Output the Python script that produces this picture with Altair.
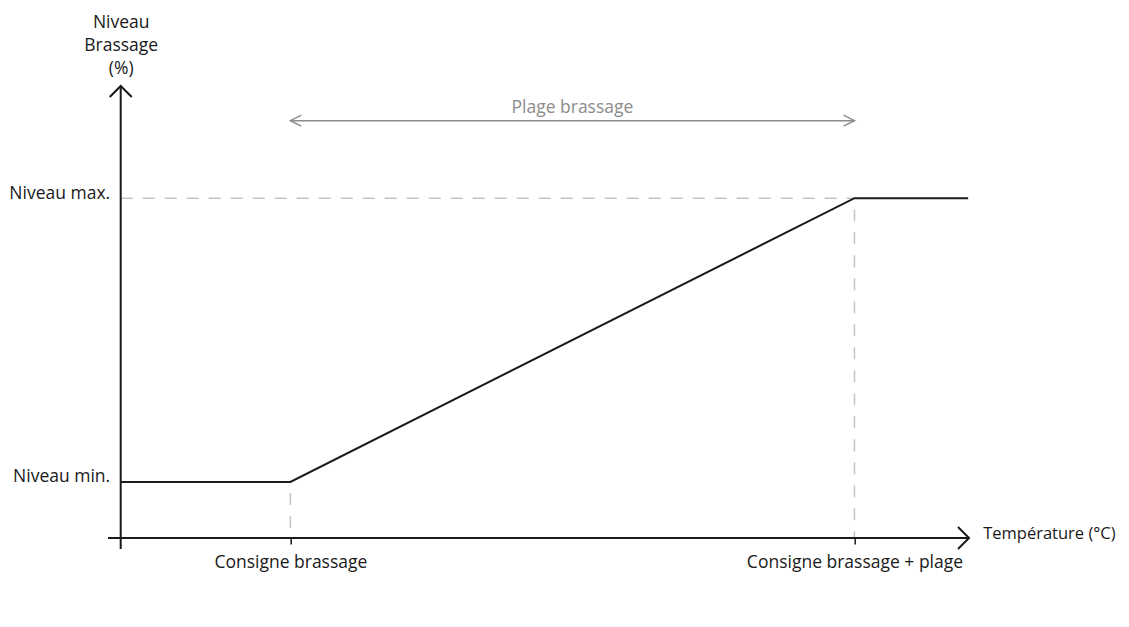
import altair as alt
import pandas as pd

# ---------------- data (x: température, unités arbitraires ; y: niveau de brassage %) -------------
x_ticks = [20, 86.5]
x_tick_labels = ["Consigne brassage", "Consigne brassage + plage"]
y_ticks = [16.5, 100]
y_tick_labels = ["Niveau min.", "Niveau max."]

curve_x = [0, 20, 86.5, 99.9]
curve_y = [16.5, 16.5, 100, 100]

x_axis_span = [-1.5, 100]
y_axis_span = [-3.2, 133]
range_start = 20
range_end = 86.5
range_y = 122.8
range_label = "Plage brassage"

x_title = "Température (°C)"
y_title = ["Niveau", "Brassage", "(%)"]

FONT = "Open Sans"
FS = 17.5
BLACK = "#1a1a1a"
GRID_GRAY = "#c4c4c4"
ARROW_GRAY = "#8c8c8c"


def label_expr(vals, labels):
    expr = "''"
    for v, l in reversed(list(zip(vals, labels))):
        expr = f"datum.value == {v} ? '{l}' : ({expr})"
    return expr


xs = alt.Scale(domain=[0, x_axis_span[1]], nice=False, zero=False)
ys = alt.Scale(domain=[0, y_axis_span[1]], nice=False, zero=False)

X = alt.X(
    "x:Q",
    scale=xs,
    axis=alt.Axis(
        values=x_ticks,
        labelExpr=label_expr(x_ticks, x_tick_labels),
        domain=False,
        grid=False,
        ticks=True,
        tickSize=6,
        tickWidth=1.5,
        tickColor=BLACK,
        labelFont=FONT,
        labelFontSize=FS,
        labelColor=BLACK,
        labelBaseline="alphabetic",
        labelPadding=23,
        labelFlush=False,
        labelOverlap=False,
        labelLimit=0,
        title=x_title,
        titleFont=FONT,
        titleFontSize=16.5,
        titleFontWeight="normal",
        titleColor=BLACK,
        titleAlign="left",
        titleBaseline="alphabetic",
        titleAnchor="start",
        titleLimit=0,
        titleX=862,
        titleY=0,
    ),
)
Y = alt.Y(
    "y:Q",
    scale=ys,
    axis=alt.Axis(
        values=y_ticks,
        labelExpr=label_expr(y_ticks, y_tick_labels),
        domain=False,
        grid=False,
        ticks=False,
        tickSize=0,
        labelFont=FONT,
        labelFontSize=FS,
        labelColor=BLACK,
        labelBaseline="alphabetic",
        labelAlign="right",
        labelPadding=11,
        labelOverlap=False,
        labelLimit=0,
        title=y_title,
        titleFont=FONT,
        titleFontSize=FS,
        titleFontWeight="normal",
        titleColor=BLACK,
        titleAngle=0,
        titleAlign="center",
        titleBaseline="alphabetic",
        titleLineHeight=23,
        titleX=0,
        titleY=-59,
    ),
)

# axis lines
y_axis_df = pd.DataFrame({"x": [0], "y": [y_axis_span[0]], "y2": [y_axis_span[1]]})
x_axis_df = pd.DataFrame({"x": [x_axis_span[0]], "x2": [x_axis_span[1]], "y": [0]})

y_axis_line = alt.Chart(y_axis_df).mark_rule(color=BLACK, strokeWidth=2).encode(
    x=X, y=Y, y2="y2:Q"
)
x_axis_line = alt.Chart(x_axis_df).mark_rule(color=BLACK, strokeWidth=2).encode(
    x=X, x2="x2:Q", y=Y
)

# dashed guides
h_guide_df = pd.DataFrame({"x": [0], "x2": [x_ticks[1]], "y": [y_ticks[1]]})
v_guide_df = pd.DataFrame({"x": x_ticks, "y": [curve_y[1], curve_y[2]], "y2": [0, 0]})

h_guide = alt.Chart(h_guide_df).mark_rule(
    color=GRID_GRAY, strokeWidth=1.5, strokeDash=[12, 10]
).encode(x=X, x2="x2:Q", y=Y)
v_guide = alt.Chart(v_guide_df).mark_rule(
    color=GRID_GRAY, strokeWidth=1.5, strokeDash=[12, 11], strokeDashOffset=12
).encode(x=X, y=Y, y2="y2:Q")

# main curve
curve_df = pd.DataFrame({"x": curve_x, "y": curve_y})
curve = alt.Chart(curve_df).mark_line(color=BLACK, strokeWidth=2).encode(x=X, y=Y)

# arrow heads on axes
up_df = pd.DataFrame({"x": [0], "y": [y_axis_span[1]]})
right_df = pd.DataFrame({"x": [x_axis_span[1]], "y": [0]})
up_head = alt.Chart(up_df).mark_point(
    shape="M-1,1L0,0L1,1", size=484, filled=False, color=BLACK, strokeWidth=2, opacity=1
).encode(x=X, y=Y)
right_head = alt.Chart(right_df).mark_point(
    shape="M-1,-1L0,0L-1,1", size=484, filled=False, color=BLACK, strokeWidth=2, opacity=1
).encode(x=X, y=Y)

# range double arrow
range_df = pd.DataFrame({"x": [range_start], "x2": [range_end], "y": [range_y]})
range_rule = alt.Chart(range_df).mark_rule(color=ARROW_GRAY, strokeWidth=1.5).encode(
    x=X, x2="x2:Q", y=Y
)
left_df = pd.DataFrame({"x": [range_start], "y": [range_y]})
rend_df = pd.DataFrame({"x": [range_end], "y": [range_y]})
range_left = alt.Chart(left_df).mark_point(
    shape="M1,-0.5L0,0L1,0.5", size=484, filled=False, color=ARROW_GRAY, strokeWidth=1.5, opacity=1
).encode(x=X, y=Y)
range_right = alt.Chart(rend_df).mark_point(
    shape="M-1,-0.5L0,0L-1,0.5", size=484, filled=False, color=ARROW_GRAY, strokeWidth=1.5, opacity=1
).encode(x=X, y=Y)
label_df = pd.DataFrame(
    {"x": [(range_start + range_end) / 2], "y": [range_y], "label": [range_label]}
)
range_text = alt.Chart(label_df).mark_text(
    font=FONT, fontSize=FS, color=ARROW_GRAY, baseline="alphabetic", align="center", dy=-8
).encode(x=X, y=Y, text="label:N")

chart = (
    alt.layer(
        h_guide, v_guide, y_axis_line, x_axis_line, curve,
        up_head, right_head, range_rule, range_left, range_right, range_text,
    )
    .properties(
        width=848.3,
        height=452,
        autosize=alt.AutoSizeParams(type="none"),
        padding={"left": 112.7, "top": 78, "right": 152, "bottom": 60},
        background="white",
    )
    .configure_view(stroke=None)
)

chart.save("out.html", embed_options={"renderer": "svg", "actions": False})
